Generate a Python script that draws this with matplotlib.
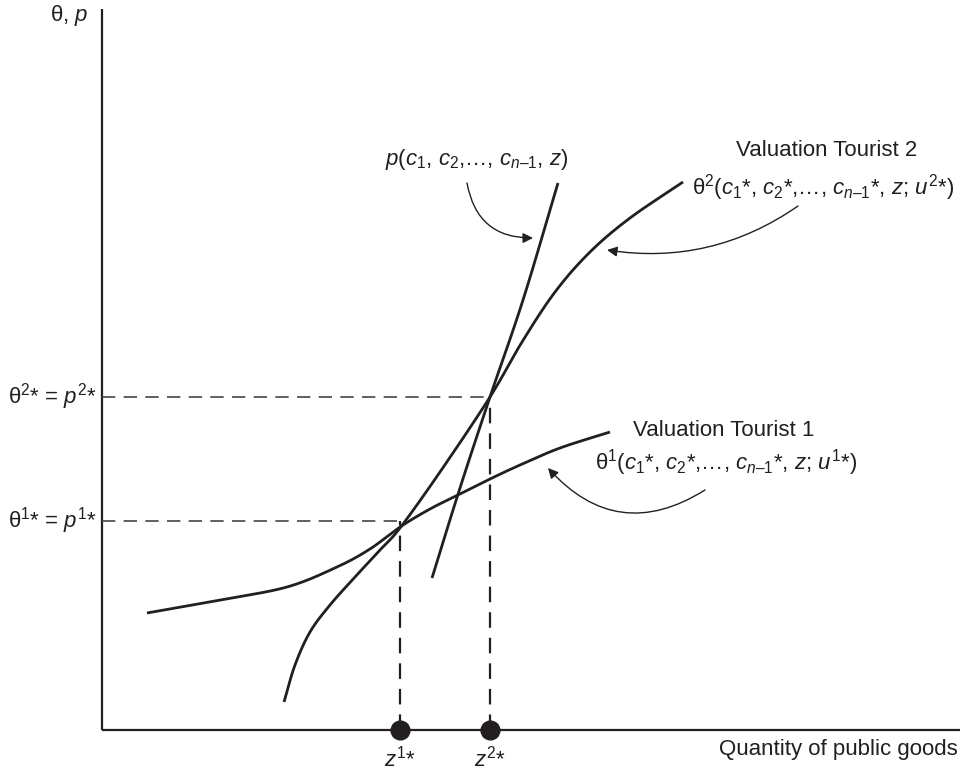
import numpy as np
import matplotlib
matplotlib.use("Agg")
import matplotlib.pyplot as plt
from matplotlib.patches import FancyArrowPatch

plt.rcParams['font.family'] = ['Liberation Sans', 'DejaVu Sans']
plt.rcParams['mathtext.fontset'] = 'custom'
plt.rcParams['mathtext.rm'] = 'Liberation Sans'
plt.rcParams['mathtext.it'] = 'Liberation Sans:italic'
plt.rcParams['mathtext.bf'] = 'Liberation Sans:bold'

# ---- data (diagram units) ----
theta1_x = [45, 118, 185, 235, 268, 298, 328, 358, 388, 418, 458, 508]
theta1_y = [117, 130, 143, 163, 181, 203, 221, 236, 251, 265, 282, 298]

theta2_x = [182, 193, 208, 228, 253, 278, 298, 338, 388, 420, 453, 488, 528, 581]
theta2_y = [28, 65, 98, 125, 153, 180, 202, 258, 333, 388, 438, 478, 512, 548]

price_x = [330, 358, 388, 421, 456]
price_y = [152, 242, 333, 430, 547]

z_star = [298, 388]
theta_star = [209, 333]
z_labels = ["$z^{1}$*", "$z^{2}$*"]
level_labels = ["θ$^{1}$* = $p^{1}$*", "θ$^{2}$* = $p^{2}$*"]

x_axis_end = 858
y_axis_end = 721

INK = '#231f20'


def catmull_rom(xs, ys, n=30):
    P = np.column_stack([xs, ys]).astype(float)
    P = np.vstack([2 * P[0] - P[1], P, 2 * P[-1] - P[-2]])
    out = []
    for i in range(1, len(P) - 2):
        p0, p1, p2, p3 = P[i - 1], P[i], P[i + 1], P[i + 2]
        t = np.linspace(0, 1, n, endpoint=False)[:, None]
        seg = 0.5 * ((2 * p1) + (-p0 + p2) * t + (2 * p0 - 5 * p1 + 4 * p2 - p3) * t ** 2
                     + (-p0 + 3 * p1 - 3 * p2 + p3) * t ** 3)
        out.append(seg)
    out.append(P[-2][None, :])
    out = np.vstack(out)
    return out[:, 0], out[:, 1]


fig = plt.figure(figsize=(9.76, 7.73), dpi=100)
ax = fig.add_axes([0, 0, 1, 1])
ax.set_xlim(-102, 874)
ax.set_ylim(-43, 730)
ax.axis('off')

# axes
ax.plot([0, 0], [0, y_axis_end], color=INK, lw=1.6, solid_capstyle='butt')
ax.plot([0, x_axis_end], [0, 0], color=INK, lw=1.6, solid_capstyle='butt')

# dashed guides
for zs, ts in zip(z_star, theta_star):
    ax.plot([0, zs], [ts, ts], color='#444444', lw=1.2, dashes=(8, 5))
    ax.plot([zs, zs], [0, ts], color=INK, lw=1.6, dashes=(7, 4.5))

# curves
for xs, ys in [(theta1_x, theta1_y), (theta2_x, theta2_y), (price_x, price_y)]:
    cx, cy = catmull_rom(xs, ys)
    ax.plot(cx, cy, color=INK, lw=2.0, solid_capstyle='butt')

# dots on the x axis
ax.plot(z_star, [0, 0], 'o', color=INK, markersize=13.5, clip_on=False, zorder=5)

FS = 16
ax.text(-14, 714, "θ, $p$", ha='right', va='center', fontsize=FS, color=INK)
ax.text(856, -20, "Quantity of public goods", ha='right', va='center', fontsize=FS, color=INK)
for zs, lab in zip(z_star, z_labels):
    ax.text(zs, -29, lab, ha='center', va='center', fontsize=FS, color=INK)
for ts, lab in zip(theta_star, level_labels):
    ax.text(-5, ts, lab, ha='right', va='center', fontsize=FS, color=INK)

ax.text(283, 570, "$p$($c_{1}$, $c_{2}$,…, $c_{n\u2013 1}$, $z$)", ha='left', va='center',
        fontsize=FS, color=INK)
ax.text(634, 579, "Valuation Tourist 2", ha='left', va='center', fontsize=FS, color=INK)
ax.text(590, 542, "θ$^{2}$($c_{1}$*, $c_{2}$*,…, $c_{n\u2013 1}$*, $z$; $u^{2}$*)", ha='left',
        va='center', fontsize=FS, color=INK)
ax.text(531, 299, "Valuation Tourist 1", ha='left', va='center', fontsize=FS, color=INK)
ax.text(493, 267, "θ$^{1}$($c_{1}$*, $c_{2}$*,…, $c_{n\u2013 1}$*, $z$; $u^{1}$*)", ha='left',
        va='center', fontsize=FS, color=INK)

# annotation arrows
arrows = [((365, 547), (431, 492), 0.42),
          ((696, 524), (505, 480), -0.2),
          ((603, 240), (446, 262), -0.42)]
for a, b, rad in arrows:
    ar = FancyArrowPatch(a, b, connectionstyle=f"arc3,rad={rad}",
                         arrowstyle="-|>,head_length=6,head_width=3",
                         color=INK, lw=1.0, shrinkA=0, shrinkB=0)
    ax.add_patch(ar)

fig.savefig("out.png", dpi=100)
